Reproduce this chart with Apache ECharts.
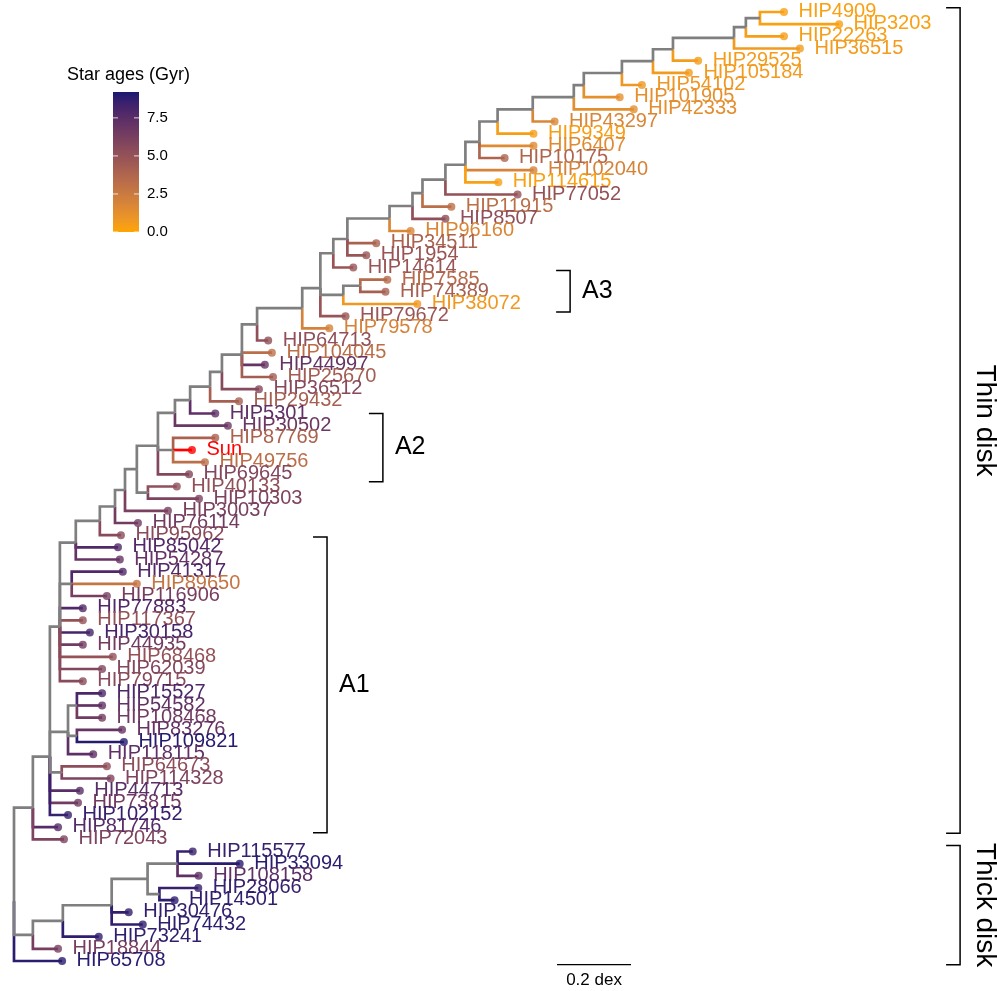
<!DOCTYPE html>
<html>
<head>
<meta charset="utf-8">
<script src="https://cdn.jsdelivr.net/npm/echarts@6/dist/echarts.min.js"></script>
<style>html,body{margin:0;padding:0;background:#fff}#chart{width:997px;height:991px}</style>
</head>
<body>
<div id="chart"></div>
<script>
// ---------------- DATA ----------------
// Tree as a parent table in pre-order (child order = display order), branch lengths in dex
const nodeName = [
 'R','D','K','L','S','U2','U1','V','W','AF','AE','AD','AC','AB','AA','AG','N13','N12','N9','N8','N7','N6','N5','N4','N3','N2','N1','T9','T8','T7','T6','T5','T4','T3','T2','T1',
 'HIP4909','HIP3203','HIP22263','HIP36515','HIP29525','HIP105184','HIP54102','HIP101905','HIP42333','HIP43297','HIP9349','HIP6407','HIP10175','HIP102040','HIP114615','HIP77052','HIP11915','HIP8507','HIP96160','HIP34511','HIP1954','HIP14614',
 'N11','N10','HIP7585','HIP74389','HIP38072','HIP79672','HIP79578','HIP64713','HIP104045','HIP44997','HIP25670','HIP36512','HIP29432','HIP5301','HIP30502',
 'Z','HIP87769','Sun','HIP49756','HIP69645','X','HIP40133','HIP10303','HIP30037','HIP76114','HIP95962','HIP85042','HIP54287',
 'T','HIP41317','HIP89650','HIP116906','HIP77883','HIP117367','HIP30158','HIP44935','HIP68468','HIP62039','HIP79715',
 'M','O','HIP15527','HIP54582','HIP108468','Q','HIP83276','HIP109821','HIP118115','N','HIP64673','HIP114328','HIP44713','HIP73815','HIP102152',
 'HIP81746','HIP72043',
 'B','C','E','F','H','HIP115577','HIP33094','HIP108158','I','HIP28066','HIP14501','HIP30476','HIP74432','HIP73241','HIP18844','HIP65708'
];
const nodeParent = [
 null,'R','D','K','L','S','U2','U1','V','W','AF','AE','AD','AC','AB','AA','AG','N13','N12','N9','N8','N7','N6','N5','N4','N3','N2','N1','T9','T8','T7','T6','T5','T4','T3','T2',
 'T1','T1','T2','T3','T4','T5','T6','T7','T8','T9','N1','N2','N2','N3','N3','N4','N5','N6','N7','N8','N8','N9',
 'N12','N11','N10','N10','N11','N12','N13','AG','AA','AA','AA','AB','AC','AD','AE',
 'AF','Z','Z','Z','AF','W','X','X','V','U1','U2','S','S',
 'L','T','T','T','L','L','L','L','L','L','L',
 'K','M','O','O','O','M','Q','Q','M','K','N','N','K','K','K',
 'D','D',
 'R','B','C','E','F','H','H','H','F','I','I','E','E','C','B','R'
];
const branchLength = [
 0,0.051,0.046,0.027,0.043,0.065,0.041,0.027,0.032,0.057,0.046,0.041,0.054,0.032,0.054,0.041,0.122,0.049,0.035,0.038,0.114,0.062,0.027,0.062,0.054,0.038,0.049,0.095,0.111,0.027,0.103,0.084,0.054,0.165,0.032,0.038,
 0.065,0.214,0.103,0.178,0.068,0.097,0.054,0.097,0.162,0.059,0.097,0.146,0.068,0.184,0.089,0.195,0.078,0.089,0.057,0.078,0.051,0.054,
 0.062,0.046,0.073,0.068,0.200,0.068,0.073,0.030,0.081,0.062,0.084,0.100,0.078,0.068,0.143,
 0.041,0.114,0.051,0.086,0.084,0.030,0.078,0.138,0.116,0.062,0.057,0.114,0.119,
 0.032,0.138,0.176,0.095,0.062,0.062,0.081,0.062,0.143,0.114,0.062,
 0.049,0.024,0.068,0.068,0.068,0.024,0.122,0.127,0.068,0.032,0.122,0.132,0.081,0.076,0.049,
 0.068,0.084,
 0.051,0.081,0.132,0.097,0.081,0.041,0.168,0.057,0.032,0.105,0.041,0.046,0.084,0.097,0.068,0.130
];
const tipNames = ['HIP4909','HIP3203','HIP22263','HIP36515','HIP29525','HIP105184','HIP54102','HIP101905','HIP42333','HIP43297','HIP9349','HIP6407','HIP10175','HIP102040','HIP114615','HIP77052','HIP11915','HIP8507','HIP96160','HIP34511','HIP1954','HIP14614','HIP7585','HIP74389','HIP38072','HIP79672','HIP79578','HIP64713','HIP104045','HIP44997','HIP25670','HIP36512','HIP29432','HIP5301','HIP30502','HIP87769','Sun','HIP49756','HIP69645','HIP40133','HIP10303','HIP30037','HIP76114','HIP95962','HIP85042','HIP54287','HIP41317','HIP89650','HIP116906','HIP77883','HIP117367','HIP30158','HIP44935','HIP68468','HIP62039','HIP79715','HIP15527','HIP54582','HIP108468','HIP83276','HIP109821','HIP118115','HIP64673','HIP114328','HIP44713','HIP73815','HIP102152','HIP81746','HIP72043','HIP115577','HIP33094','HIP108158','HIP28066','HIP14501','HIP30476','HIP74432','HIP73241','HIP18844','HIP65708'];
const tipAges = [0.3,0.3,0.4,0.6,0.5,0.6,0.8,1.2,1.3,1.8,0.4,1.5,3.8,2.0,0.3,5.0,3.2,5.2,1.8,4.0,4.8,4.8,3.5,4.2,0.7,4.8,2.0,5.2,3.2,7.0,4.3,5.6,4.2,7.3,6.8,4.0,4.6,3.2,5.8,5.2,6.0,6.2,6.5,5.5,7.8,7.0,7.8,2.8,6.3,7.8,5.0,8.2,6.5,5.0,5.8,5.5,8.0,7.2,6.5,7.0,9.0,7.3,5.3,6.0,7.5,6.5,8.6,7.6,6.0,8.6,8.9,7.3,8.6,8.8,8.7,8.8,8.8,6.3,8.9];
const highlightTip = 'Sun';
const ageLimits = [0, 9.2];
const ageTicks = [0, 2.5, 5, 7.5];
const cladeNames = ['A3', 'A2', 'A1', 'Thin disk', 'Thick disk'];
const cladeFirstTip = ['HIP7585', 'HIP5301', 'HIP95962', 'HIP4909', 'HIP115577'];
const cladeLastTip = ['HIP38072', 'HIP69645', 'HIP81746', 'HIP81746', 'HIP65708'];
const scaleBarDex = 0.2;

// ---------------- STYLE ----------------
const LOW = '#FFA500', HIGH = '#191970', HILITE = '#FF0000', INTERNAL = '#7F7F7F';
const FONT = '"Liberation Sans", Arial, sans-serif';
const PX_PER_DEX = 370, ROOT_PX = 14;
const cladeStyle = [ // bar position (dex), bar extension beyond tips (rows), label font
 {x: 1.503, top: 0.75, bot: 0.65, fs: 25, horiz: true},
 {x: 0.997, top: 0.0, bot: 0.6, fs: 25, horiz: true},
 {x: 0.846, top: -0.15, bot: 0.45, fs: 25, horiz: true},
 {x: 2.557, top: 0.35, bot: 0.5, fs: 28, horiz: false},
 {x: 2.557, top: 0.5, bot: 0.3, fs: 28, horiz: false}
];

// ---------------- colour scale (CIELAB interpolation, as ggplot2) ----------------
function hex2rgb(h){return [1,3,5].map(i=>parseInt(h.slice(i,i+2),16));}
function toLin(c){c/=255;return c<=0.04045?c/12.92:Math.pow((c+0.055)/1.055,2.4);}
function fromLin(c){const v=c<=0.0031308?12.92*c:1.055*Math.pow(c,1/2.4)-0.055;return Math.max(0,Math.min(255,Math.round(v*255)));}
const WN=[0.95047,1,1.08883];
function rgb2lab(rgb){
  const [r,g,b]=rgb.map(toLin);
  const X=(0.4124564*r+0.3575761*g+0.1804375*b)/WN[0];
  const Y=(0.2126729*r+0.7151522*g+0.0721750*b)/WN[1];
  const Z=(0.0193339*r+0.1191920*g+0.9503041*b)/WN[2];
  const f=t=>t>0.008856?Math.cbrt(t):7.787*t+16/116;
  const fx=f(X),fy=f(Y),fz=f(Z);
  return [116*fy-16,500*(fx-fy),200*(fy-fz)];
}
function lab2rgb(lab){
  const fy=(lab[0]+16)/116, fx=fy+lab[1]/500, fz=fy-lab[2]/200;
  const fi=t=>t*t*t>0.008856?t*t*t:(t-16/116)/7.787;
  const X=fi(fx)*WN[0],Y=fi(fy)*WN[1],Z=fi(fz)*WN[2];
  const r=3.2404542*X-1.5371385*Y-0.4985314*Z;
  const g=-0.9692660*X+1.8760108*Y+0.0415560*Z;
  const b=0.0556434*X-0.2040259*Y+1.0572252*Z;
  return [r,g,b].map(fromLin);
}
const labLow=rgb2lab(hex2rgb(LOW)), labHigh=rgb2lab(hex2rgb(HIGH));
function rampColor(t){
  t=Math.max(0,Math.min(1,t));
  const c=lab2rgb(labLow.map((v,i)=>v+(labHigh[i]-v)*t));
  return 'rgb('+c.join(',')+')';
}
function ageColor(a){return rampColor((a-ageLimits[0])/(ageLimits[1]-ageLimits[0]));}

// ---------------- tree layout (rectangular, ggtree-like) ----------------
const N=nodeName.length, idx={};
nodeName.forEach((n,i)=>idx[n]=i);
const children=nodeName.map(()=>[]);
let root=0;
nodeParent.forEach((p,i)=>{if(p===null)root=i;else children[idx[p]].push(i);});
const depth=new Array(N).fill(0), row=new Array(N).fill(0), leafOrder=[];
function walk(i){
  for(const c of children[i]){depth[c]=depth[i]+branchLength[c];walk(c);}
  if(children[i].length===0){leafOrder.push(i);row[i]=leafOrder.length;}
  else row[i]=children[i].reduce((s,c)=>s+row[c],0)/children[i].length;
}
walk(root);
const ageOf={}; tipNames.forEach((n,i)=>ageOf[n]=tipAges[i]);
function nodeColor(i){
  if(children[i].length) return INTERNAL;
  if(nodeName[i]===highlightTip) return HILITE;
  return ageColor(ageOf[nodeName[i]]);
}
// edges: leaves first, then internal nodes (internal grey drawn on top)
const edgeNodes=leafOrder.concat(nodeName.map((_,i)=>i).filter(i=>i!==root&&children[i].length>0));
const edgeData=edgeNodes.map(i=>{const p=idx[nodeParent[i]];return [depth[p],row[p],depth[i],row[i]];});
const edgeColors=edgeNodes.map(nodeColor);
const tipData=leafOrder.map(i=>({value:[depth[i],row[i]],itemStyle:{color:nodeColor(i)}}));
const labelData=leafOrder.map(i=>[depth[i],row[i]]);
const cladeData=cladeNames.map((n,k)=>[cladeStyle[k].x,row[idx[cladeFirstTip[k]]]-cladeStyle[k].top,row[idx[cladeLastTip[k]]]+cladeStyle[k].bot]);
const nTips=leafOrder.length;

// ---------------- chart ----------------
const chart=echarts.init(document.getElementById('chart'),null,{renderer:'canvas'});
const gridW=997-ROOT_PX;
const xMax=gridW/PX_PER_DEX;

// legend (colour bar) in pixel space, values mapped linearly
const bar={x:113,y:92,w:26,h:140};
const stops=[];for(let k=0;k<=20;k++){stops.push({offset:k/20,color:rampColor(k/20)});}
const vy=v=>bar.y+bar.h-(v-ageLimits[0])/(ageLimits[1]-ageLimits[0])*bar.h;
const legendEls=[
 {type:'text',x:67,y:75,style:{text:'Star ages (Gyr)',fill:'#000',fontSize:18,fontFamily:FONT,verticalAlign:'middle'}},
 {type:'rect',shape:{x:bar.x,y:bar.y,width:bar.w,height:bar.h},style:{fill:new echarts.graphic.LinearGradient(0,1,0,0,stops)}}
];
ageTicks.forEach(v=>{
  const y=vy(v);
  legendEls.push({type:'line',shape:{x1:bar.x,y1:y,x2:bar.x+5,y2:y},style:{stroke:'rgba(255,255,255,0.8)',lineWidth:1}});
  legendEls.push({type:'line',shape:{x1:bar.x+bar.w-5,y1:y,x2:bar.x+bar.w,y2:y},style:{stroke:'rgba(255,255,255,0.8)',lineWidth:1}});
  legendEls.push({type:'text',x:bar.x+bar.w+8,y:y,style:{text:v.toFixed(1),fill:'#000',fontSize:15,fontFamily:FONT,verticalAlign:'middle'}});
});

const option={
  animation:false,
  backgroundColor:'#fff',
  grid:{left:ROOT_PX,right:0,top:12,bottom:30,containLabel:false},
  xAxis:{type:'value',min:0,max:xMax,show:false},
  yAxis:{type:'value',min:1,max:nTips,inverse:true,show:false},
  graphic:legendEls,
  series:[
    {type:'custom',name:'edges',clip:false,data:edgeData,encode:{x:[0,2],y:[1,3]},
     renderItem:(params,api)=>{
       const px=api.value(0),py=api.value(1),cx=api.value(2),cy=api.value(3);
       const a=api.coord([px,py]),b=api.coord([px,cy]),c=api.coord([cx,cy]);
       return {type:'polyline',shape:{points:[a,b,c]},style:{stroke:edgeColors[params.dataIndex],lineWidth:2.7,fill:null,lineJoin:'miter',lineCap:'butt'}};
     }},
    {type:'scatter',name:'tips',data:tipData,symbol:'circle',symbolSize:8,z:3},
    {type:'custom',name:'labels',clip:false,data:labelData,encode:{x:0,y:1},z:4,
     renderItem:(params,api)=>{
       const p=api.coord([api.value(0),api.value(1)]);
       const i=leafOrder[params.dataIndex];
       return {type:'text',x:p[0]+14.5,y:p[1]-0.5,style:{text:nodeName[i],fill:nodeColor(i),fontSize:20,fontFamily:FONT,verticalAlign:'middle',align:'left'}};
     }},
    {type:'custom',name:'clades',clip:false,data:cladeData,encode:{x:0,y:[1,2]},z:4,
     renderItem:(params,api)=>{
       const k=params.dataIndex, st=cladeStyle[k];
       const t=api.coord([api.value(0),api.value(1)]);
       const b=api.coord([api.value(0),api.value(2)]);
       const tick=14;
       const els=[{type:'polyline',shape:{points:[[t[0]-tick,t[1]],[t[0],t[1]],[b[0],b[1]],[b[0]-tick,b[1]]]},style:{stroke:'#000',lineWidth:1.5,fill:null}}];
       const my=(t[1]+b[1])/2;
       if(st.horiz){
         els.push({type:'text',x:t[0]+12,y:my,style:{text:cladeNames[k],fill:'#000',fontSize:st.fs,fontFamily:FONT,verticalAlign:'middle',align:'left'}});
       }else{
         els.push({type:'text',x:t[0]+25,y:my,rotation:-Math.PI/2,style:{text:cladeNames[k],fill:'#000',fontSize:st.fs,fontFamily:FONT,verticalAlign:'middle',align:'center'}});
       }
       return {type:'group',children:els};
     }},
    {type:'custom',name:'scalebar',clip:false,data:[[1.4676,nTips+0.3]],encode:{x:0,y:1},z:4,
     renderItem:(params,api)=>{
       const a=api.coord([api.value(0),api.value(1)]);
       const b=api.coord([api.value(0)+scaleBarDex,api.value(1)]);
       return {type:'group',children:[
         {type:'line',shape:{x1:a[0],y1:a[1],x2:b[0],y2:b[1]},style:{stroke:'#000',lineWidth:1.2}},
         {type:'text',x:(a[0]+b[0])/2,y:a[1]+16,style:{text:scaleBarDex+' dex',fill:'#000',fontSize:17,fontFamily:FONT,align:'center',verticalAlign:'middle'}}
       ]};
     }}
  ]
};
chart.setOption(option);
</script>
</body>
</html>
